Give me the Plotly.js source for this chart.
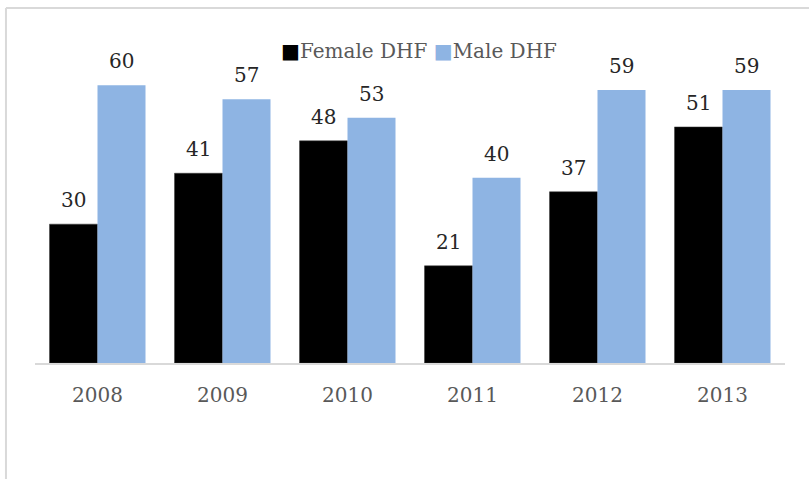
<!DOCTYPE html>
<html><head><meta charset="utf-8">
<script src="https://cdn.plot.ly/plotly-3.0.1.min.js"></script>
<style>body{margin:0;background:#fff}#chart{width:809px;height:479px}</style>
</head><body><div id="chart"></div>
<script>
const years = ['2008','2009','2010','2011','2012','2013'];
const femaleDHF = [30, 41, 48, 21, 37, 51];
const maleDHF = [60, 57, 53, 40, 59, 59];
const seriesNames = ['Female DHF', 'Male DHF'];
const seriesColors = ['#000000', '#8EB4E3'];

const FONT = 'DejaVu Serif, Liberation Serif, serif';
const traces = [
  {type:'bar', name:seriesNames[0], x:years, y:femaleDHF, marker:{color:seriesColors[0], line:{color:'#3a3a3a', width:0.5}}},
  {type:'bar', name:seriesNames[1], x:years, y:maleDHF, marker:{color:seriesColors[1]}}
];
const ann = [];
years.forEach((yr,i)=>{
  ann.push({x:yr, y:femaleDHF[i], xref:'x', yref:'y', text:String(femaleDHF[i]), showarrow:false, yanchor:'bottom', xshift:-24, yshift:10, font:{family:FONT, size:20, color:'#262626'}});
  ann.push({x:yr, y:maleDHF[i], xref:'x', yref:'y', text:String(maleDHF[i]), showarrow:false, yanchor:'bottom', xshift:24, yshift:10, font:{family:FONT, size:20, color:'#262626'}});
});
// custom legend
const legText = seriesNames.map((n,i)=>`<span style="color:${seriesColors[i]};font-family:DejaVu Sans">■</span>${n}`).join(' ');
ann.push({xref:'paper', yref:'paper', x:0.512, y:0.962, xanchor:'center', yanchor:'middle', showarrow:false, text:legText, font:{family:FONT, size:20, color:'#595959'}});

const layout = {
  width:809, height:479,
  margin:{l:35, r:24, t:39, b:116},
  paper_bgcolor:'#ffffff', plot_bgcolor:'#ffffff',
  barmode:'group', bargap:0.232, bargroupgap:0,
  showlegend:false,
  xaxis:{showgrid:false, showline:true, linecolor:'#d9d9d9', linewidth:2, ticks:'', tickfont:{family:FONT, size:20, color:'#595959'}, ticklabelstandoff:13},
  yaxis:{range:[0,70], visible:false, showgrid:false, zeroline:false},
  annotations: ann,
  shapes:[
    {type:'line', xref:'paper', yref:'paper', x0:-0.0387, x1:1.04, y0:1.0957, y1:1.0957, line:{color:'#d9d9d9', width:2}},
    {type:'line', xref:'paper', yref:'paper', x0:-0.0387, x1:-0.0387, y0:1.0957, y1:-0.4, line:{color:'#d9d9d9', width:2}}
  ]
};
Plotly.newPlot('chart', traces, layout, {displayModeBar:false, staticPlot:true});
</script></body></html>
